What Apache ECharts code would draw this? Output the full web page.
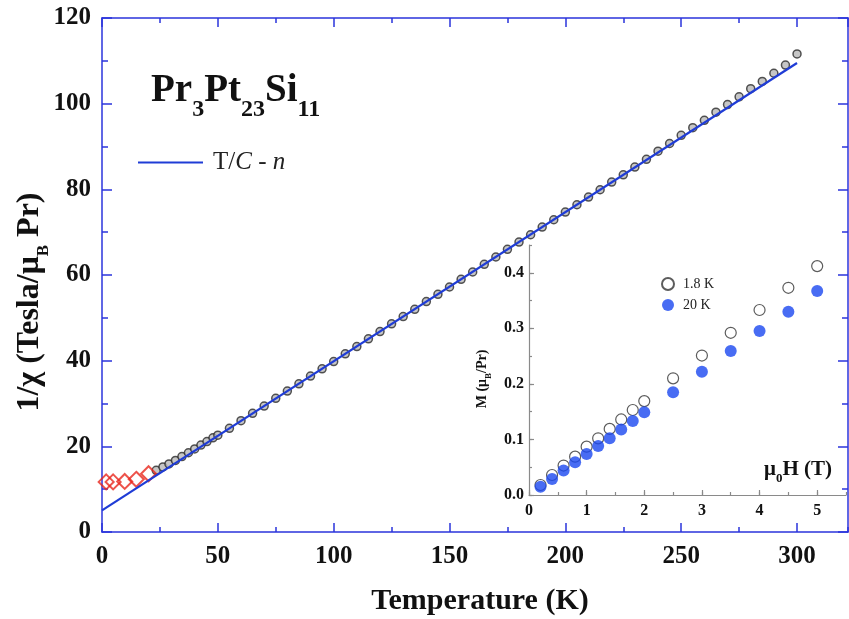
<!DOCTYPE html>
<html>
<head>
<meta charset="utf-8">
<script src="https://cdn.jsdelivr.net/npm/echarts@6/dist/echarts.min.js"></script>
<style>
    html, body { margin: 0; padding: 0; background: #fff; }
    #chart { width: 849px; height: 619px; }
</style>
</head>
<body>
<div id="chart"></div>
<script>
// 1/chi vs T, main panel
const tempLow = [23.4, 26.3, 28.9, 31.7, 34.5, 37.3, 40, 42.7, 45.3, 47.9];
const invChiLow = [14.4, 15.2, 15.9, 16.7, 17.6, 18.5, 19.4, 20.3, 21.1, 22.0];

const temp = [50, 55, 60, 65, 70, 75, 80, 85, 90, 95,
    100, 105, 110, 115, 120, 125, 130, 135, 140, 145,
    150, 155, 160, 165, 170, 175, 180, 185, 190, 195,
    200, 205, 210, 215, 220, 225, 230, 235, 240, 245,
    250, 255, 260, 265, 270, 275, 280, 285, 290, 295, 300];
const invChi = [22.6, 24.2, 26.0, 27.7, 29.4, 31.2, 32.9, 34.6, 36.4, 38.1,
    39.8, 41.6, 43.3, 45.1, 46.8, 48.6, 50.3, 52.0, 53.8, 55.5,
    57.2, 59.0, 60.7, 62.5, 64.2, 66.0, 67.7, 69.4, 71.2, 72.9,
    74.7, 76.4, 78.2, 79.9, 81.7, 83.4, 85.2, 87.0, 88.9, 90.7,
    92.6, 94.4, 96.1, 98.0, 99.8, 101.6, 103.5, 105.2, 107.1, 109.0, 111.6];

// red diamonds (lowest temperatures)
const tempDia = [1.8, 4.8, 9.8, 14.8, 20.1];
const invChiDia = [11.7, 11.7, 11.8, 12.3, 13.6];

// fit T/C - n
const fitT = [0, 300];
const fitV = [5.06, 109.5];

// inset M(H)
const field = [0.2, 0.4, 0.6, 0.8, 1.0, 1.2, 1.4, 1.6, 1.8, 2.0, 2.5, 3.0, 3.5, 4.0, 4.5, 5.0];
const m18K = [0.018, 0.036, 0.053, 0.069, 0.087, 0.102, 0.119, 0.136, 0.153, 0.169, 0.210, 0.251, 0.292, 0.333, 0.373, 0.412];
const m20K = [0.015, 0.029, 0.044, 0.059, 0.074, 0.088, 0.102, 0.118, 0.133, 0.149, 0.185, 0.222, 0.259, 0.295, 0.330, 0.367];

const SERIF = 'Liberation Serif';
const BLUE_AXIS = '#2b35dc';
const GRAY_AXIS = '#8a8a8a';

const zip = (a, b) => a.map((v, i) => [v, b[i]]);

// one axis = line + ticks (+ labels). Minor ticks come from a second axis
function axis(gridIndex, position, min, max, interval, tickLen, color, opts) {
    opts = opts || {};
    return {
        type: 'value',
        gridIndex: gridIndex,
        position: position,
        min: min,
        max: max,
        interval: interval,
        splitLine: { show: false },
        axisLine: { show: !!opts.line, onZero: false, lineStyle: { color: color, width: opts.lineWidth || 1.5 } },
        axisTick: { show: true, inside: true, length: tickLen, lineStyle: { color: color, width: opts.lineWidth || 1.5 } },
        axisLabel: opts.label ? {
            show: true,
            showMaxLabel: opts.showMax !== false,
            margin: opts.margin,
            color: '#111',
            fontFamily: SERIF,
            fontWeight: 'bold',
            fontSize: opts.fontSize,
            formatter: opts.formatter
        } : { show: false }
    };
}

const chart = echarts.init(document.getElementById('chart'));

const option = {
    animation: false,
    backgroundColor: '#fff',
    title: {
        left: 151,
        top: 60,
        padding: 0,
        text: '{a|Pr}{s|3}{a|Pt}{s|23}{a|Si}{s|11}',
        textStyle: {
            rich: {
                a: { fontFamily: SERIF, fontWeight: 'bold', fontSize: 39, lineHeight: 62, color: '#111' },
                s: { fontFamily: SERIF, fontWeight: 'bold', fontSize: 24, verticalAlign: 'bottom', color: '#111' }
            }
        }
    },
    legend: [{
        data: [{ name: 'T/C - n', icon: 'rect' }],
        left: 138,
        top: 150,
        padding: 0,
        itemWidth: 65,
        itemHeight: 2,
        formatter: function () { return '{r|T/}{i|C}{r| - }{i|n}'; },
        textStyle: {
            padding: [0, 0, 0, 5],
            rich: {
                r: { fontFamily: SERIF, fontSize: 25, lineHeight: 26, color: '#222' },
                i: { fontFamily: SERIF, fontSize: 25, lineHeight: 26, fontStyle: 'italic', color: '#222' }
            }
        }
    }, {
        data: ['1.8 K', '20 K'],
        orient: 'vertical',
        left: 661,
        top: 277,
        padding: 0,
        itemWidth: 12,
        itemHeight: 12,
        itemGap: 7,
        textStyle: { fontFamily: SERIF, fontSize: 14, color: '#222', padding: [0, 0, 0, 4] }
    }],
    grid: [
        { left: 102, top: 18, right: 1, bottom: 87 },
        { left: 529, top: 245, right: 3, bottom: 124 }
    ],
    xAxis: [
        axis(0, 'bottom', 0, 322, 50, 9, BLUE_AXIS, { line: true, label: true, fontSize: 25, margin: 12, showMax: false }),
        axis(0, 'bottom', 0, 322, 25, 5, BLUE_AXIS),
        axis(0, 'top', 0, 322, 50, 9, BLUE_AXIS, { line: true }),
        axis(0, 'top', 0, 322, 25, 5, BLUE_AXIS),
        axis(1, 'bottom', 0, 5.5, 1, 5, GRAY_AXIS, { line: true, lineWidth: 1.2, label: true, fontSize: 16, margin: 8, showMax: false }),
        axis(1, 'bottom', 0, 5.5, 0.5, 3, GRAY_AXIS, { lineWidth: 1.2 })
    ],
    yAxis: [
        axis(0, 'left', 0, 120, 20, 10, BLUE_AXIS, { line: true, label: true, fontSize: 25, margin: 11 }),
        axis(0, 'left', 0, 120, 10, 6, BLUE_AXIS),
        axis(0, 'right', 0, 120, 20, 10, BLUE_AXIS, { line: true }),
        axis(0, 'right', 0, 120, 10, 6, BLUE_AXIS),
        axis(1, 'left', 0, 0.45, 0.1, 5, GRAY_AXIS, {
            line: true, lineWidth: 1.2, label: true, fontSize: 16, margin: 5, showMax: false,
            formatter: function (v) { return v.toFixed(1); }
        }),
        axis(1, 'left', 0, 0.45, 0.05, 3, GRAY_AXIS, { lineWidth: 1.2 })
    ],
    graphic: [{
        type: 'text',
        x: 30, y: 302,
        rotation: Math.PI / 2,
        style: {
            text: '{m|1/χ (Tesla/μ}{s|B}{m| Pr)}',
            align: 'center', verticalAlign: 'middle',
            textAlign: 'center', textVerticalAlign: 'middle',
            rich: {
                m: { fontFamily: SERIF, fontWeight: 'bold', fontSize: 32, lineHeight: 44, fill: '#111' },
                s: { fontFamily: SERIF, fontWeight: 'bold', fontSize: 17, verticalAlign: 'bottom', fill: '#111' }
            }
        }
    }, {
        type: 'text',
        x: 480, y: 601,
        style: {
            text: 'Temperature (K)',
            align: 'center', verticalAlign: 'middle',
            textAlign: 'center', textVerticalAlign: 'middle',
            font: 'bold 30px "Liberation Serif"',
            fill: '#111'
        }
    }, {
        type: 'text',
        x: 482, y: 379,
        rotation: Math.PI / 2,
        style: {
            text: '{m|M (μ}{s|B}{m|/Pr)}',
            align: 'center', verticalAlign: 'middle',
            textAlign: 'center', textVerticalAlign: 'middle',
            rich: {
                m: { fontFamily: SERIF, fontWeight: 'bold', fontSize: 14, lineHeight: 22, fill: '#111' },
                s: { fontFamily: SERIF, fontWeight: 'bold', fontSize: 9, verticalAlign: 'bottom', fill: '#111' }
            }
        }
    }, {
        type: 'text',
        x: 798, y: 470,
        style: {
            text: '{m|μ}{s|0}{m|H (T)}',
            align: 'center', verticalAlign: 'middle',
            textAlign: 'center', textVerticalAlign: 'middle',
            rich: {
                m: { fontFamily: SERIF, fontWeight: 'bold', fontSize: 21, lineHeight: 30, fill: '#111' },
                s: { fontFamily: SERIF, fontWeight: 'bold', fontSize: 13, verticalAlign: 'bottom', fill: '#111' }
            }
        }
    }],
    series: [{
        name: 'data',
        type: 'scatter',
        xAxisIndex: 0, yAxisIndex: 0,
        symbol: 'circle',
        symbolSize: 8,
        data: zip(tempLow, invChiLow).concat(zip(temp, invChi)),
        itemStyle: { color: '#b8b8b8', borderColor: '#2a2a2a', borderWidth: 1.5 }
    }, {
        name: 'low T',
        type: 'scatter',
        xAxisIndex: 0, yAxisIndex: 0,
        symbol: 'diamond',
        symbolSize: 15,
        data: zip(tempDia, invChiDia),
        itemStyle: { color: 'rgba(255,255,255,0)', borderColor: '#e8281e', borderWidth: 2 }
    }, {
        name: 'T/C - n',
        type: 'line',
        xAxisIndex: 0, yAxisIndex: 0,
        showSymbol: false,
        symbol: 'none',
        data: zip(fitT, fitV),
        lineStyle: { color: '#1f3cd6', width: 2.2 },
        itemStyle: { color: '#1f3cd6' },
        z: 3
    }, {
        name: '1.8 K',
        type: 'scatter',
        xAxisIndex: 4, yAxisIndex: 4,
        symbol: 'circle',
        symbolSize: 11,
        data: zip(field, m18K),
        itemStyle: { color: '#fff', borderColor: '#333', borderWidth: 1.2 }
    }, {
        name: '20 K',
        type: 'scatter',
        xAxisIndex: 4, yAxisIndex: 4,
        symbol: 'circle',
        symbolSize: 12,
        data: zip(field, m20K),
        itemStyle: { color: '#1a47f0' }
    }]
};

chart.setOption(option);
</script>
</body>
</html>
